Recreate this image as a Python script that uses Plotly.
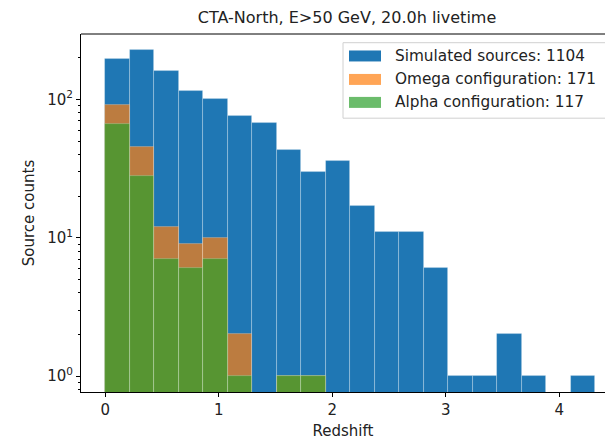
import numpy as np
import plotly.graph_objects as go

# ---- data ----
z_min, z_max, n_bins = 0.0, 4.318, 20
simulated = [196, 228, 161, 115, 101, 76, 67, 43, 30, 36, 17, 11, 11, 6, 1, 1, 2, 1, 0, 1]
omega     = [91, 45, 12, 9, 10, 2, 0, 1, 1, 0, 0, 0, 0, 0, 0, 0, 0, 0, 0, 0]
alpha     = [66, 28, 7, 6, 7, 1, 0, 1, 1, 0, 0, 0, 0, 0, 0, 0, 0, 0, 0, 0]
labels = ["Simulated sources", "Omega configuration", "Alpha configuration"]
title = "CTA-North, E>50 GeV, 20.0h livetime"

edges = np.linspace(z_min, z_max, n_bins + 1)
centers = 0.5 * (edges[:-1] + edges[1:])
width = edges[1] - edges[0]

colors = ["#1f77b4", "rgba(255,127,14,0.7)", "rgba(44,160,44,0.7)"]
series = [simulated, omega, alpha]

W, H = 605, 440
L, R, T, B = 81, 0, 34, 47.5
FONT = "DejaVu Sans"
TXT = "#222222"

fig = go.Figure()
for name, vals, col in zip(labels, series, colors):
    v = np.array(vals, dtype=float)
    mask = v > 0
    fig.add_trace(go.Bar(
        x=centers[mask], y=v[mask], width=width, name=name,
        marker=dict(color=col, line=dict(color="rgba(255,255,255,0.3)", width=0.8)),
        showlegend=False,
    ))

minor_vals = [0.8, 0.9] + [k for k in range(2, 10)] + [10 * k for k in range(2, 10)] + [200]

fig.update_layout(
    width=W, height=H,
    margin=dict(l=L, r=R, t=T, b=B, pad=0),
    plot_bgcolor="white", paper_bgcolor="white",
    barmode="overlay", bargap=0,
    font=dict(family=FONT, size=15, color=TXT),
    title=dict(text=title, x=347 / W, xref="container", xanchor="center",
               y=1 - 17.5 / H, yref="container", yanchor="middle",
               font=dict(size=16, color=TXT)),
    xaxis=dict(range=[-0.213, 4.404], tickvals=[0, 1, 2, 3, 4],
               ticks="outside", ticklen=4, tickwidth=1, tickcolor="black",
               showline=True, linecolor="black", linewidth=1, mirror=False,
               showgrid=False, zeroline=False,
               title=dict(text="Redshift", standoff=7, font=dict(size=15))),
    yaxis=dict(type="log", range=[-0.1155, 2.473],
               tickvals=[1, 10, 100],
               ticktext=["10<sup>0</sup>", "10<sup>1</sup>", "10<sup>2</sup>"],
               ticks="outside", ticklen=4, tickwidth=1, tickcolor="black",
               minor=dict(tickvals=minor_vals, ticks="outside", ticklen=2.2,
                          tickwidth=0.8, tickcolor="black", showgrid=False),
               showline=True, linecolor="black", linewidth=1,
               showgrid=False, zeroline=False,
               title=dict(text="Source counts", standoff=8, font=dict(size=15))),
)

# top spine
fig.add_shape(type="line", xref="paper", yref="paper", x0=0, x1=1.02, y0=1, y1=1,
              line=dict(color="black", width=1))

# custom legend (matplotlib style)
pw, ph = W - L - R, H - T - B
def px(x):
    return (x - L) / pw
def py(y):
    return (H - B - y) / ph

fig.add_shape(type="rect", xref="paper", yref="paper",
              x0=px(343), x1=px(615), y0=py(118.3), y1=py(42.7),
              line=dict(color="#d0d0d0", width=1), fillcolor="rgba(255,255,255,0.85)")
rows_y = [56, 79.5, 102.5]
for name, vals, col, yy in zip(labels, series, colors, rows_y):
    fig.add_shape(type="rect", xref="paper", yref="paper",
                  x0=px(349), x1=px(381), y0=py(yy + 5.5), y1=py(yy - 5.5),
                  line=dict(width=0), fillcolor=col)
    fig.add_annotation(xref="paper", yref="paper", x=px(393), y=py(yy),
                       xanchor="left", yanchor="middle", showarrow=False,
                       text=f"{name}: {sum(vals)}", font=dict(size=15.3, color=TXT))

fig.write_html("out.html")
